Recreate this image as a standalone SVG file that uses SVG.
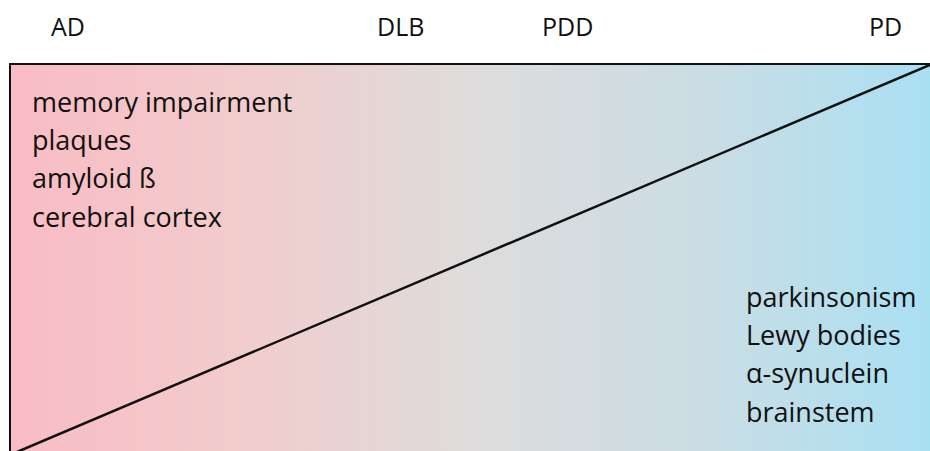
<svg xmlns="http://www.w3.org/2000/svg" width="930" height="451" viewBox="0 0 930 451">
  <style>
    .lbl { font-family: "Open Sans", "Liberation Sans", sans-serif; font-size: 27px; fill: #111; }
    .hdr { font-family: "Open Sans", "Liberation Sans", sans-serif; font-size: 25px; fill: #111; }
  </style>
  <defs>
    <linearGradient id="bg" x1="0" y1="0" x2="1" y2="0">
      <stop offset="0" stop-color="#f9bcc4"/>
      <stop offset="0.25" stop-color="#f2cccc"/>
      <stop offset="0.5" stop-color="#dedcdc"/>
      <stop offset="0.75" stop-color="#cadde4"/>
      <stop offset="1" stop-color="#a8e0f3"/>
    </linearGradient>
  </defs>
  <rect width="930" height="451" fill="#ffffff"/>
  <g id="panel">
    <rect x="10" y="64" width="930" height="400" fill="url(#bg)" stroke="#111" stroke-width="2"/>
  </g>
  <g id="connectors">
    <line x1="17" y1="452" x2="932" y2="64" stroke="#111" stroke-width="2.5"/>
  </g>
  <g id="headers">
    <text class="hdr" x="51" y="36">AD</text>
    <text class="hdr" x="377" y="36">DLB</text>
    <text class="hdr" x="542" y="36">PDD</text>
    <text class="hdr" x="869" y="36">PD</text>
  </g>
  <g id="ad-features">
    <text class="lbl" x="32" y="112">memory impairment</text>
    <text class="lbl" x="32" y="150">plaques</text>
    <text class="lbl" x="32" y="188">amyloid ß</text>
    <text class="lbl" x="32" y="227">cerebral cortex</text>
  </g>
  <g id="pd-features">
    <text class="lbl" x="746" y="307">parkinsonism</text>
    <text class="lbl" x="746" y="345">Lewy bodies</text>
    <text class="lbl" x="746" y="383">α-synuclein</text>
    <text class="lbl" x="746" y="422">brainstem</text>
  </g>
</svg>
